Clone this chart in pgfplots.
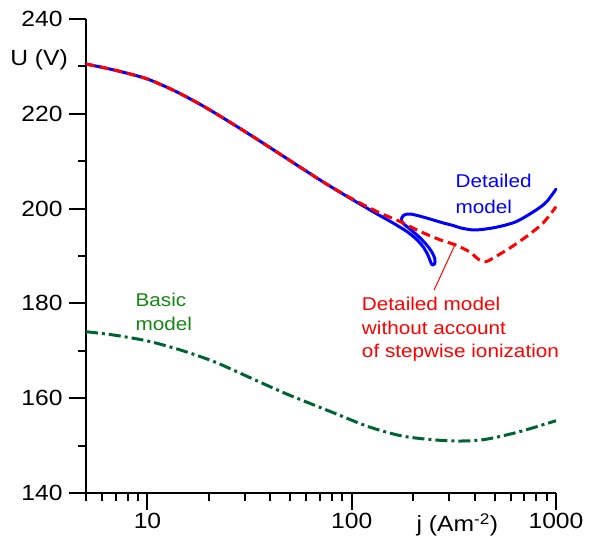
\documentclass[border=0pt]{standalone}
\usepackage{fontspec}
\setmainfont{Liberation Sans}[FakeStretch=1.12]
\usepackage{pgfplots}
\pgfplotsset{compat=1.18}
\definecolor{bluec}{RGB}{0,0,255}
\definecolor{redc}{RGB}{255,0,0}
\definecolor{greenline}{RGB}{0,100,50}
\definecolor{greentext}{RGB}{20,135,20}
\newcommand{\lab}{\fontsize{18.5}{22}\selectfont}
\newcommand{\tlab}{\fontsize{22}{26}\selectfont}
\begin{document}
\begin{tikzpicture}[x=1pt,y=1pt]
\useasboundingbox (-86,-55) rectangle (503,493);
\begin{axis}[
  at={(0,0)}, anchor=south west,
  width=470pt, height=474pt, scale only axis,
  xmode=log, xmin=5, xmax=1000, ymin=140, ymax=240,
  axis x line*=bottom, axis y line*=left,
  axis line style={line width=2.5pt,-},
  every outer x axis line/.append style={-},
  every outer y axis line/.append style={-},
  xtick={10,100,1000}, xticklabels={10,100,1000},
  minor xtick={5,6,7,8,9,20,30,40,50,60,70,80,90,200,300,400,500,600,700,800,900},
  ytick={140,160,180,200,220,240},
  minor ytick={150,170,190,210,230},
  tick align=outside,
  major tick length=17pt, minor tick length=8pt,
  every tick/.style={black, line width=2pt},
  tick label style={font=\tlab},
  yticklabel style={xshift=-3pt},
  /pgf/number format/assume math mode=true,
  clip=false,
]
% Detailed model (blue)
\addplot[bluec, line width=3pt, smooth, tension=0.5, line join=round, line cap=round] coordinates {
(5,230.5) (5.87,229.89) (6.96,229.18) (8.25,228.38) (10,227.34) (12.27,225.72)
(14.54,224.2) (18.24,221.92) (22.88,219.41) (32.17,215.43) (45.21,211.32)
(56.72,208.56) (75.31,205.17) (100,201.98) (132.8,198.88) (157.4,197.09)
(186.7,195.13) (209.0,193.38) (225.4,191.72) (236.6,190.1)
(243.0,188.8) (247.8,188.1) (254.3,188.3) (255.5,189.3) (247.8,190.7)
(234.2,192.2) (214.6,193.94) (193.7,195.63) (178.2,196.9) (174.9,197.74)
(179.8,198.59) (193.7,198.86) (229.6,198.08) (277.3,197.03) (311.0,196.48)
(348.1,195.84) (405,195.49) (507.7,196.05) (637.4,197.24) (799.4,199.7)
(900,201.45) (1000,204.1)
};
% Detailed model without stepwise ionization (red dashed)
\addplot[redc, line width=3pt, smooth, tension=0.5, dash pattern=on 9pt off 5pt] coordinates {
(5,230.5) (5.87,229.89) (6.96,229.18) (8.25,228.38) (10,227.34) (12.27,225.72)
(14.54,224.2) (18.24,221.92) (22.88,219.41) (32.17,215.43) (45.21,211.32)
(56.72,208.56) (75.31,205.17) (100,202.1) (135.3,199.2)
(169.8,197.4) (213.1,195.3) (267.3,193.5) (322.8,192.32) (375.8,190.91)
(421,189.2) (453.6,188.8) (489.8,189.51) (591.5,191.62) (714.5,194.07)
(862.2,196.9) (1000,200.4)
};
% Basic model (green dash-dot)
\addplot[greenline, line width=3pt, smooth, dash pattern=on 12pt off 4pt on 3pt off 4pt] coordinates {
(5,174.03) (6.82,173.33) (10,172.07) (14.5,170.17) (21.2,167.7) (31.0,164.54)
(45.2,161.37) (56.7,159.62) (82.8,156.8) (120.8,153.99) (176.2,152.03)
(257.3,151.18) (348.1,150.97) (453.6,151.33) (662.8,152.93) (1000,155.25)
};
% annotation leader
\draw[redc, line width=1pt] (axis cs:318,192.1) -- (axis cs:253,182.8);
% labels
\node[anchor=base west, inner sep=0, text=bluec, font=\lab] at (axis cs:321.6,204.35) {Detailed};
\node[anchor=base west, inner sep=0, text=bluec, font=\lab] at (axis cs:321.6,199.07) {model};
\node[anchor=base west, inner sep=0, text=redc, font=\lab] at (axis cs:112,178.6) {Detailed model};
\node[anchor=base west, inner sep=0, text=redc, font=\lab] at (axis cs:112,173.54) {without account};
\node[anchor=base west, inner sep=0, text=redc, font=\lab] at (axis cs:112,168.69) {of stepwise ionization};
\node[anchor=base west, inner sep=0, text=greentext, font=\lab] at (axis cs:8.73,179.24) {Basic};
\node[anchor=base west, inner sep=0, text=greentext, font=\lab] at (axis cs:8.73,174.18) {model};
% axis labels
\node[anchor=east, inner sep=0, font=\tlab] at (axis cs:5,231.35) [xshift=-18pt] {U (V)};
\node[anchor=base, inner sep=0, font=\tlab] at (axis cs:329,140) [yshift=-39pt] {j (Am\textsuperscript{-2})};
\end{axis}
\end{tikzpicture}
\end{document}
